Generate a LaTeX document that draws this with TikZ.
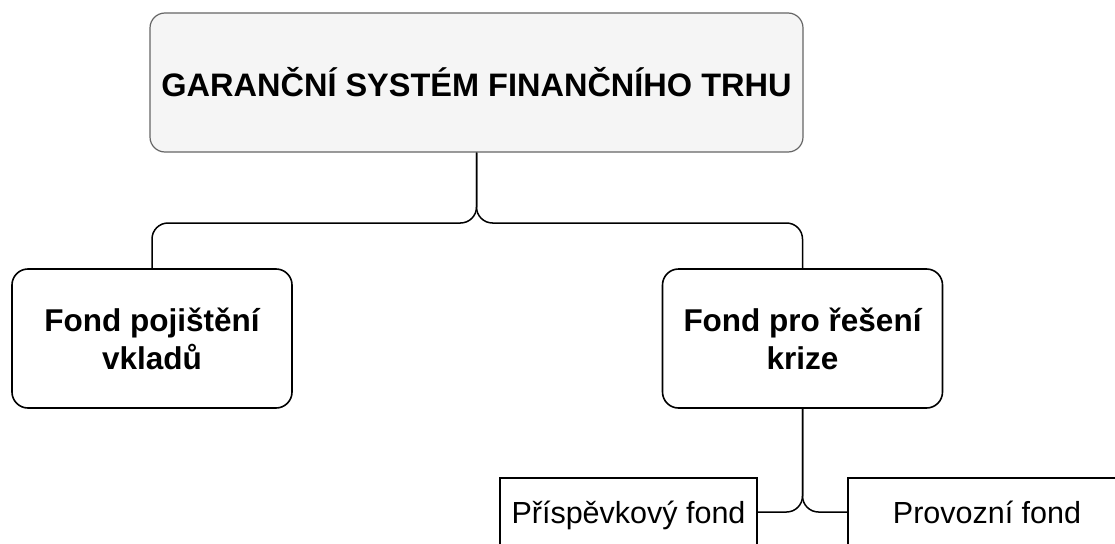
\documentclass[tikz,border=0pt]{standalone}
\usepackage{fontspec}
\setmainfont{Liberation Sans}
\begin{document}
\begin{tikzpicture}[x=1pt,y=-1pt,
  conn/.style={draw=black,line width=1.5pt,rounded corners=16pt},
  titlebox/.style={draw=black!60,fill=black!4,line width=1.2pt,rounded corners=15pt,
    minimum width=653pt,minimum height=139pt,inner sep=0pt,
    font=\fontsize{32.5}{39}\selectfont\bfseries},
  fundbox/.style={draw=black,fill=white,line width=1.6pt,rounded corners=16pt,
    minimum width=280pt,minimum height=139pt,align=center,inner sep=0pt,
    font=\fontsize{31.5}{38}\selectfont\bfseries},
  subbox/.style={draw=black,fill=white,line width=1.4pt,minimum height=68pt,
    inner sep=0pt,text height=22pt,text depth=0pt,
    font=\fontsize{30.5}{36}\selectfont}
]
\clip (0,0) rectangle (1115,543);
\fill[white] (0,0) rectangle (1115,543);

% main node and the two funds
\node[titlebox] (top) at (476.5,82.5) {GARANČNÍ SYSTÉM FINANČNÍHO TRHU};
\node[fundbox] (left) at (152,338.5) {Fond pojištění\\vkladů};
\node[fundbox] (right) at (802.5,338.5) {Fond pro řešení\\krize};

% sub-funds of the resolution fund
\node[subbox,minimum width=257pt] (contrib) at (628.5,512) {Příspěvkový fond};
\node[subbox,minimum width=278pt] (oper) at (987,512) {Provozní fond};

% brace-like connectors
\coordinate (split) at (476.5,223);
\draw[conn] (top.south) -- (split) -- (left.north |- split) -- (left.north);
\draw[conn] (top.south) -- (split) -- (right.north |- split) -- (right.north);

\coordinate (subsplit) at (802.5,512);
\draw[conn] (right.south) -- (subsplit) -- (contrib.east);
\draw[conn] (right.south) -- (subsplit) -- (oper.west);
\end{tikzpicture}
\end{document}
